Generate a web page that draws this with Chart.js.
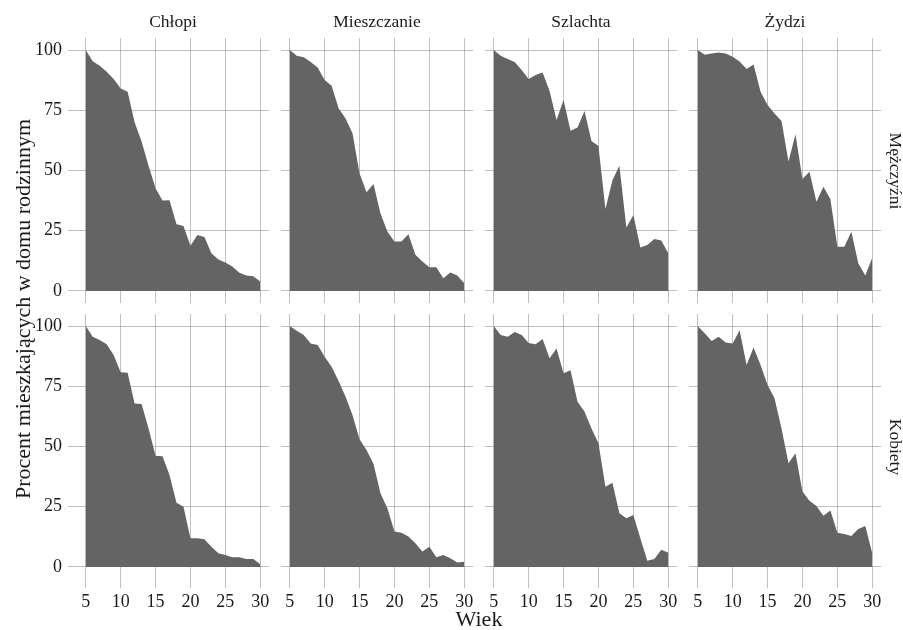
<!DOCTYPE html>
<html>
<head>
<meta charset="utf-8">
<script src="https://cdn.jsdelivr.net/npm/chart.js@4/dist/chart.umd.min.js"></script>
<style>
  body { margin: 0; background: #fff; }
  #page { position: relative; width: 903px; height: 630px; overflow: hidden; font-family: "Liberation Serif", serif; color: #1a1a1a; }
  #page canvas { position: absolute; left: 0; top: 0; }
  .lbl { position: absolute; white-space: nowrap; transform: translate(-50%, -50%); }
  .strip { font-size: 17.5px; }
  .axis { font-size: 22px; }
</style>
</head>
<body>
<div id="page"></div>
<script>
// Data

var ages = [5, 6, 7, 8, 9, 10, 11, 12, 13, 14, 15, 16, 17, 18, 19, 20, 21, 22, 23, 24, 25, 26, 27, 28, 29, 30];
var xTicks = [5, 10, 15, 20, 25, 30];
var yTicks = [0, 25, 50, 75, 100];

var groups = ['Chłopi', 'Mieszczanie', 'Szlachta', 'Żydzi'];
var sexes = ['Mężczyźni', 'Kobiety'];

// Mężczyźni
var chlopiM = [100, 95.4, 93.5, 91, 88, 84, 82.7, 70, 62, 52, 42.6, 37.5, 37.6, 27.7, 27, 18.8, 23.2, 22.4, 15.6, 13.1, 11.8, 10.1, 7.6, 6.4, 6.1, 3.9];
var mieszczanieM = [100, 97.6, 97, 95, 92.8, 87.6, 85.2, 75.8, 71.6, 65.4, 48.8, 41, 44.4, 32.2, 24.6, 20.5, 20.5, 23.5, 15, 12.2, 9.8, 9.8, 5.3, 7.7, 6.4, 3.2];
var szlachtaM = [100, 97.6, 96.3, 95, 91.7, 88, 89.6, 90.7, 83, 71, 79.3, 66.5, 67.8, 74.7, 62.2, 60.2, 34, 46, 52, 26.3, 31.5, 18, 19.1, 21.6, 20.9, 15.6];
var zydziM = [100, 98, 98.6, 99, 98.6, 97.2, 95.2, 92.1, 94, 82.7, 77.2, 73.7, 70.5, 53.7, 65, 46.5, 49.5, 37, 43.3, 38.2, 18.4, 18.4, 24.6, 11.5, 6.4, 13.8];

// Kobiety
var chlopiK = [100, 95.6, 94.2, 92.4, 88, 80.8, 80.6, 67.9, 67.6, 57.5, 46.2, 46, 38.2, 26.7, 25, 11.9, 11.9, 11.5, 8.4, 5.7, 5, 4, 4, 3.3, 3.3, 1.1];
var mieszczanieK = [100, 98, 96.3, 92.8, 92.1, 87.3, 83.1, 77.2, 70.7, 63, 53, 48.5, 42.7, 30.6, 24.3, 14.7, 14.2, 12.6, 9.8, 6.4, 8.4, 4, 5, 3.6, 1.9, 2.2];
var szlachtaK = [100, 96.3, 95.6, 97.5, 96.3, 93, 92.4, 94.6, 86.6, 90.7, 80.4, 81.7, 68.6, 64.5, 57.5, 51.3, 33.3, 35, 22.3, 20.2, 21.6, 11.9, 2.6, 3.3, 7.1, 5.9];
var zydziK = [100, 97, 93.8, 95.6, 93.2, 92.8, 98.3, 83.8, 91.1, 83.8, 75.5, 70, 57.5, 43, 47.2, 31.3, 27.5, 25.3, 21.3, 23.4, 14.2, 13.7, 12.9, 15.8, 17, 5.7];

var series = [
  [chlopiM, mieszczanieM, szlachtaM, zydziM],
  [chlopiK, mieszczanieK, szlachtaK, zydziK]
];

// Panel geometry

var W = 903, H = 630;
var colLeft = [77, 281, 485, 689];
var panelW = 192;
var rowTop = [38, 314];
var panelH = 265;
var yAxisW = 77;
var xAxisH = 40;

var page = document.getElementById('page');
var gridColor = 'rgba(153, 153, 153, 0.62)';
var tickFont = { family: 'Liberation Serif', size: 18 };

function addLabel(text, x, y, cls, rot) {
  var d = document.createElement('div');
  d.className = 'lbl ' + cls;
  d.textContent = text;
  d.style.left = x + 'px';
  d.style.top = y + 'px';
  if (rot) d.style.transform = 'translate(-50%, -50%) rotate(' + rot + 'deg)';
  page.appendChild(d);
}

function makePanel(r, c) {
  var cv = document.createElement('canvas');
  cv.width = W;
  cv.height = H;
  page.appendChild(cv);

  var left = c == 0;
  var bottom = r == 1;
  var vals = series[r][c];

  new Chart(cv, {
    type: 'line',
    data: {
      datasets: [{
        data: ages.map(function (a, i) { return { x: a, y: vals[i] }; }),
        fill: 'origin',
        backgroundColor: '#646464',
        borderWidth: 0,
        pointRadius: 0,
        tension: 0
      }]
    },
    options: {
      responsive: false,
      animation: false,
      events: [],
      layout: {
        padding: {
          left: left ? 0 : colLeft[c],
          right: W - colLeft[c] - panelW,
          top: rowTop[r],
          bottom: bottom ? H - rowTop[r] - panelH - xAxisH : H - rowTop[r] - panelH
        }
      },
      scales: {
        x: {
          type: 'linear',
          min: 3.75,
          max: 31.25,
          z: 1,
          afterBuildTicks: function (s) { s.ticks = xTicks.map(function (v) { return { value: v }; }); },
          afterFit: function (s) { s.height = bottom ? xAxisH : 0; },
          border: { display: false },
          grid: { color: gridColor, tickColor: gridColor, drawTicks: bottom, tickLength: 9 },
          ticks: { display: bottom, font: tickFont, color: '#1a1a1a', padding: 3, maxRotation: 0 }
        },
        y: {
          min: -5,
          max: 105,
          z: 1,
          afterBuildTicks: function (s) { s.ticks = yTicks.map(function (v) { return { value: v }; }); },
          afterFit: function (s) { s.width = left ? yAxisW : 0; },
          border: { display: false },
          grid: { color: gridColor, tickColor: gridColor, drawTicks: left, tickLength: 9 },
          ticks: { display: left, font: tickFont, color: '#1a1a1a', padding: 6 }
        }
      },
      plugins: {
        legend: { display: false },
        tooltip: { enabled: false }
      }
    }
  });
}

for (var r = 0; r < 2; r++) {
  for (var c = 0; c < 4; c++) {
    makePanel(r, c);
  }
}

// Strip and axis labels

for (var c = 0; c < 4; c++) {
  addLabel(groups[c], colLeft[c] + panelW / 2, 21, 'strip');
}
for (var r = 0; r < 2; r++) {
  addLabel(sexes[r], 895, rowTop[r] + panelH / 2, 'strip', 90);
}
addLabel('Procent mieszkających w domu rodzinnym', 23, (rowTop[0] + rowTop[1] + panelH) / 2, 'axis', -90);
addLabel('Wiek', (colLeft[0] + colLeft[3] + panelW) / 2, 619, 'axis');
</script>
</body>
</html>
